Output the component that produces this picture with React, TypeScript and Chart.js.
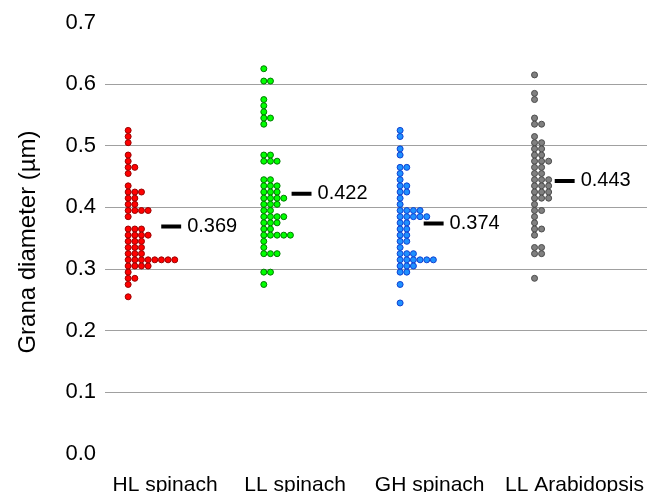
import React, { useEffect, useRef } from "react";
import { Chart, registerables } from "chart.js";

Chart.register(...registerables);

// ---------- data ----------
const categories = ["HL spinach", "LL spinach", "GH spinach", "LL Arabidopsis"];

const hlSpinach = [
  0.525, 0.515, 0.505, 0.485, 0.475, 0.465, 0.465, 0.455, 0.435,
  0.425, 0.425, 0.425, 0.415, 0.415, 0.405, 0.405,
  0.395, 0.395, 0.395, 0.395, 0.385,
  0.365, 0.365, 0.365, 0.355, 0.355, 0.355, 0.355,
  0.345, 0.345, 0.345, 0.335, 0.335, 0.335, 0.325, 0.325, 0.325,
  0.315, 0.315, 0.315, 0.315, 0.315, 0.315, 0.315, 0.315,
  0.305, 0.305, 0.305, 0.305, 0.295, 0.285, 0.285, 0.275, 0.255,
];

const llSpinach = [
  0.625, 0.605, 0.605, 0.575, 0.565, 0.555, 0.545, 0.545, 0.535,
  0.485, 0.485, 0.475, 0.475, 0.475,
  0.445, 0.445, 0.435, 0.435, 0.435, 0.425, 0.425, 0.425,
  0.415, 0.415, 0.415, 0.415, 0.405, 0.405, 0.405, 0.395, 0.395,
  0.385, 0.385, 0.385, 0.385, 0.375, 0.375, 0.375, 0.365, 0.365,
  0.355, 0.355, 0.355, 0.355, 0.355, 0.345, 0.335,
  0.325, 0.325, 0.325, 0.295, 0.295, 0.275,
];

const ghSpinach = [
  0.525, 0.515, 0.495, 0.485, 0.465, 0.465, 0.455, 0.445,
  0.435, 0.435, 0.425, 0.425, 0.415, 0.405,
  0.395, 0.395, 0.395, 0.395, 0.385, 0.385, 0.385, 0.385, 0.385,
  0.375, 0.375, 0.365, 0.365, 0.355, 0.355, 0.345, 0.345, 0.335,
  0.325, 0.325, 0.325, 0.315, 0.315, 0.315, 0.315, 0.315, 0.315,
  0.305, 0.305, 0.305, 0.295, 0.295, 0.275, 0.245,
];

const llArabidopsis = [
  0.615, 0.585, 0.575, 0.545, 0.535, 0.535, 0.515, 0.505, 0.505,
  0.495, 0.495, 0.485, 0.485, 0.475, 0.475, 0.475, 0.465, 0.465,
  0.455, 0.455, 0.445, 0.445, 0.445, 0.435, 0.435, 0.435,
  0.425, 0.425, 0.425, 0.415, 0.415, 0.415, 0.405, 0.395, 0.395,
  0.385, 0.375, 0.365, 0.365, 0.355, 0.335, 0.335, 0.325, 0.325, 0.285,
];

const groups = [hlSpinach, llSpinach, ghSpinach, llArabidopsis];
const means = [0.369, 0.422, 0.374, 0.443];
const meanLabels = ["0.369", "0.422", "0.374", "0.443"];
const yTickValues = [0, 0.1, 0.2, 0.3, 0.4, 0.5, 0.6, 0.7];
const yTitle = "Grana diameter (\u00B5m)";

// ---------- styles / layout ----------
const fillColors = ["#FF0000", "#00FF00", "#1E90FF", "#808080"];
const edgeColors = ["#9A0000", "#007A00", "#1040D0", "#4A4A4A"];
const FONT = '"Liberation Sans", Arial, Helvetica, sans-serif';
const W = 651;
const H = 492;
const PX_PER_UNIT = 136.5; // x scale 0..4 over 546 px
const DOT_STEPS = [6.7, 6.7, 6.7, 7.1].map((p) => p / PX_PER_UNIT);
const DOT_START = [0.171, 1.172, 2.178, 3.17];
const LABEL_POS = [0.443, 1.403, 2.396, 3.465];
const BAR_START = [0.415, 1.377, 2.352, 3.319];
const BAR_LEN = 0.147;

function stackPoints(values: number[], start: number, step: number) {
  const counts: Record<string, number> = {};
  return values.map((v) => {
    const key = v.toFixed(3);
    const k = counts[key] || 0;
    counts[key] = k + 1;
    return { x: start + k * step, y: v };
  });
}

const textPlugin = {
  id: "extraText",
  afterDatasetsDraw(chart: any) {
    const { ctx, scales } = chart;
    ctx.save();
    ctx.fillStyle = "#000";

    // mean value labels
    ctx.font = `20px ${FONT}`;
    ctx.textAlign = "left";
    ctx.textBaseline = "middle";
    means.forEach((m, i) => {
      const x = scales.x.getPixelForValue(BAR_START[i] + BAR_LEN) + 6;
      const y = scales.y.getPixelForValue(m);
      ctx.fillText(meanLabels[i], x, y);
    });

    // category labels
    ctx.font = `21px ${FONT}`;
    ctx.textAlign = "center";
    ctx.textBaseline = "alphabetic";
    categories.forEach((c, i) => {
      ctx.fillText(c, scales.x.getPixelForValue(LABEL_POS[i]), scales.x.bottom - 1);
    });

    // y-axis title
    ctx.font = `24px ${FONT}`;
    ctx.textAlign = "center";
    ctx.textBaseline = "middle";
    ctx.translate(28, 242);
    ctx.rotate(-Math.PI / 2);
    ctx.fillText(yTitle, 0, 0);
    ctx.restore();
  },
};

export default function App() {
  const ref = useRef<HTMLCanvasElement>(null);

  useEffect(() => {
    if (!ref.current) return;
    const dotSets = groups.map((g, i) => ({
      label: categories[i],
      data: stackPoints(g, DOT_START[i], DOT_STEPS[i]),
      backgroundColor: fillColors[i],
      borderColor: edgeColors[i],
      borderWidth: 1,
      pointRadius: 3,
      pointHoverRadius: 3,
      showLine: false,
    }));
    const barSets = means.map((m, i) => ({
      label: "mean " + categories[i],
      data: [
        { x: BAR_START[i], y: m },
        { x: BAR_START[i] + BAR_LEN, y: m },
      ],
      borderColor: "#000",
      borderWidth: 4,
      borderCapStyle: "butt",
      pointRadius: 0,
      showLine: true,
    }));

    const chart = new Chart(ref.current, {
      type: "scatter",
      data: { datasets: [...dotSets, ...barSets] as any },
      plugins: [textPlugin],
      options: {
        animation: false,
        responsive: false,
        layout: { padding: { top: 22.5, left: 0, right: 0, bottom: 0 } },
        plugins: { legend: { display: false }, tooltip: { enabled: false } },
        scales: {
          x: {
            type: "linear",
            min: 0,
            max: 4,
            afterFit: (scale: any) => {
              scale.height = 38;
              scale.paddingLeft = 0;
              scale.paddingRight = 0;
            },
            ticks: { display: false },
            grid: { display: false, drawTicks: false },
            border: { display: false },
          },
          y: {
            min: 0,
            max: 0.7,
            afterBuildTicks: (scale: any) => {
              scale.ticks = yTickValues.map((v) => ({ value: v }));
            },
            afterFit: (scale: any) => {
              scale.width = 105;
            },
            ticks: {
              padding: 9,
              color: "#000",
              font: { size: 22, family: FONT },
              callback: (v: any) => Number(v).toFixed(1),
            },
            grid: {
              drawTicks: false,
              lineWidth: 1,
              color: (ctx: any) => {
                const v = ctx.tick ? ctx.tick.value : 0;
                return v > 0.05 && v < 0.65 ? "#A0A0A0" : "rgba(0,0,0,0)";
              },
            },
            border: { display: false },
          },
        },
      } as any,
    });
    return () => chart.destroy();
  }, []);

  return (
    <div style={{ position: "fixed", left: 0, top: 0, width: W, height: H, background: "#fff" }}>
      <canvas ref={ref} width={W} height={H} style={{ display: "block", width: W, height: H }} />
    </div>
  );
}
